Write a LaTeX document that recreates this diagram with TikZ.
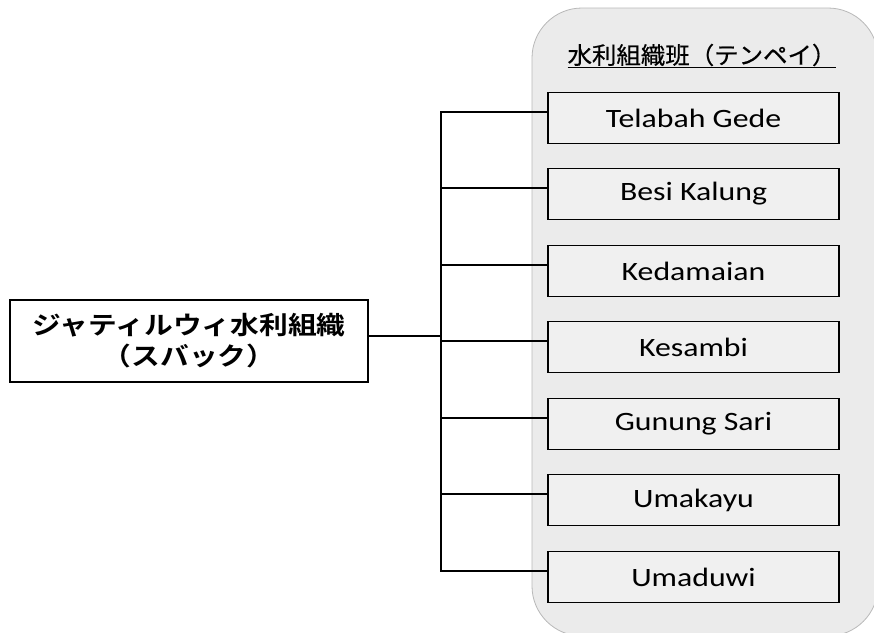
\documentclass[tikz,border=0pt]{standalone}
\usepackage{fontspec}
\setmainfont{Carlito}
\newfontfamily\widelat[FakeStretch=1.2]{Carlito}
\newfontfamily\jpf[FakeStretch=1.04,FakeBold=0.6]{Noto Sans CJK JP}
\newfontfamily\jpb[FakeStretch=1.15]{Noto Sans CJK JP Bold}
\begin{document}
\begin{tikzpicture}[x=1pt,y=-1pt,
  member/.style={draw=black,line width=1.4pt,fill=black!6,minimum width=291pt,minimum height=51pt,inner sep=0pt,font=\widelat\fontsize{26.5}{28}\selectfont},
  link/.style={line width=1.8pt}]
\useasboundingbox (0,0) rectangle (874,632);
\begin{scope}
\clip (0,0) rectangle (874,632);
\draw[fill=black!8,draw=black!28,line width=0.8pt,rounded corners=50pt] (532,8) rectangle (878,636);
\end{scope}
\node[font=\jpf\fontsize{23.5}{26}\selectfont,inner sep=0pt] (title) at (702,56) {\underline{水利組織班（テンペイ）}};
\node[draw=black,line width=1.4pt,fill=white,minimum width=358pt,minimum height=82pt,inner sep=0pt,align=center,font=\jpb\fontsize{25}{31}\selectfont] (sub) at (189,341) {ジャティルウィ水利組織\\（スバック）};
\node[member] (m1) at (693.5,118) {Telabah Gede};
\node[member] (m2) at (693.5,194) {Besi Kalung};
\node[member] (m3) at (693.5,271) {Kedamaian};
\node[member] (m4) at (693.5,347) {Kesambi};
\node[member] (m5) at (693.5,424) {Gunung Sari};
\node[member] (m6) at (693.5,500) {Umakayu};
\node[member] (m7) at (693.5,577) {Umaduwi};
\coordinate (top) at (441,112);
\coordinate (bot) at (441,571);
\draw[link] (m1.west|-top) -- (top) -- (bot) -- (m7.west|-bot);
\foreach \i/\y in {2/188,3/265,4/341,5/418,6/494}{
  \draw[link] (441,\y) -- (m\i.west|-{(0,\y)});
}
\draw[link] (sub.east|-{(0,336)}) -- (441,336);
\end{tikzpicture}
\end{document}
